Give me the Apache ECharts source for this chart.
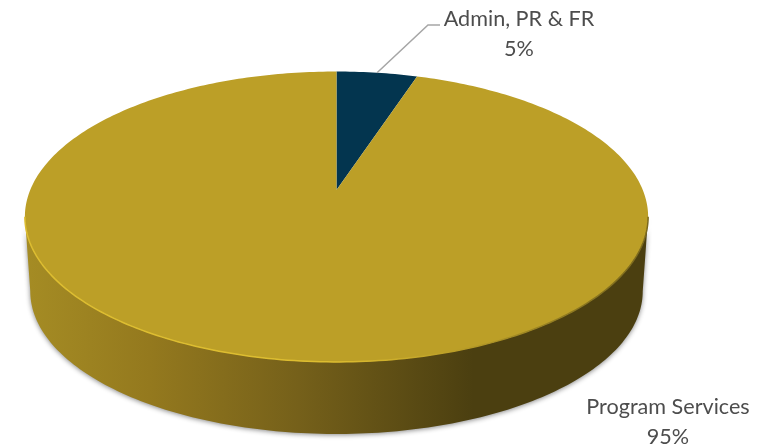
<!DOCTYPE html>
<html><head><meta charset="utf-8">
<style>html,body{margin:0;padding:0;background:#fff}#c{width:779px;height:446px}</style>
<script src="https://cdn.jsdelivr.net/npm/echarts@6/dist/echarts.min.js"></script>
</head><body><div id="c"></div>
<script>
const categories = ['Admin, PR & FR', 'Program Services'];
const values = [5, 95];
const percentLabels = ['5%', '95%'];
const sliceColors = ['#03354F', '#BC9F27'];

const K = 0.184, CX = 336.5;
const topDisc = {R: 306.3, S: 140.3, y0: 190};
const baseDisc = {R: 301, S: 137.9, y0: 265};
const STEP = Math.PI / 180;
const total = values.reduce((a, b) => a + b, 0);

function project(d, t) {
  const u = Math.sin(t), v = Math.cos(t), w = 1 + K * v;
  return [CX + d.R * u / w, d.y0 - d.S * v / w];
}
function arc(d, a, b) {
  const pts = [];
  const n = Math.max(2, Math.ceil((b - a) / STEP));
  for (let i = 0; i <= n; i++) pts.push(project(d, a + (b - a) * i / n));
  return pts;
}
const labelLayout = [
  {x: 519, y: 19, y2: 49, elbow: [428, 25], end: [440, 25]},
  {x: 668, y: 407, y2: 437}
];
const textStyle = (text, x, y) => ({
  type: 'text', z2: 5,
  style: {text, x, y, align: 'center', verticalAlign: 'middle',
    fill: '#4D4D4D', font: '21.6px Lato, "Open Sans", sans-serif'}
});

function renderItem(params, api) {
  const i = params.dataIndex;
  const before = values.slice(0, i).reduce((a, b) => a + b, 0);
  const a = before / total * 2 * Math.PI;
  const b = (before + api.value(0)) / total * 2 * Math.PI;
  const children = [];
  // visible front wall, limited to the silhouette of the disc
  const lim = Math.acos(-K);
  const sa = Math.max(a, lim), sb = Math.min(b, 2 * Math.PI - lim);
  if (sb > sa) {
    const wall = arc(topDisc, sa, sb).concat(arc(baseDisc, sa, sb).reverse());
    children.push({
      type: 'polygon', z2: 1, shape: {points: wall},
      style: {
        fill: new echarts.graphic.LinearGradient(0, 0, 1, 0, [
          {offset: 0, color: '#A58C24'},
          {offset: 0.2, color: '#94791E'},
          {offset: 0.44, color: '#75601A'},
          {offset: 0.72, color: '#4B3F10'},
          {offset: 1, color: '#4B3F10'}
        ]),
        shadowBlur: 5, shadowColor: 'rgba(40,40,40,0.55)', shadowOffsetY: 1
      }
    });
  }
  // top face
  children.push({
    type: 'polygon', z2: 2,
    shape: {points: [[CX, topDisc.y0]].concat(arc(topDisc, a, b))},
    style: {fill: sliceColors[i]}
  });
  // bevelled rim on the front edge
  if (sb > sa) {
    children.push({
      type: 'polyline', z2: 3, shape: {points: arc(topDisc, sa, sb)},
      style: {
        fill: null, lineWidth: 1.5,
        stroke: new echarts.graphic.LinearGradient(0, 0, 1, 0, [
          {offset: 0, color: '#DDBD30'},
          {offset: 0.5, color: '#DDBD30'},
          {offset: 0.68, color: '#BC9F27'},
          {offset: 0.86, color: '#8F7A20'},
          {offset: 1, color: '#7A681C'}
        ])
      }
    });
  }
  const L = labelLayout[i];
  children.push(textStyle(categories[i], L.x, L.y));
  children.push(textStyle(percentLabels[i], L.x, L.y2));
  if (L.elbow) {
    const mid = project(topDisc, (a + b) / 2);
    children.push({
      type: 'polyline', z2: 4, shape: {points: [mid, L.elbow, L.end]},
      style: {fill: null, stroke: '#A6A6A6', lineWidth: 1.5}
    });
  }
  return {type: 'group', children};
}

const chart = echarts.init(document.getElementById('c'), null, {renderer: 'canvas'});
chart.setOption({
  animation: false,
  backgroundColor: '#fff',
  series: [{
    type: 'custom',
    coordinateSystem: 'none',
    renderItem,
    data: values.map(v => [v])
  }]
});
</script></body></html>
